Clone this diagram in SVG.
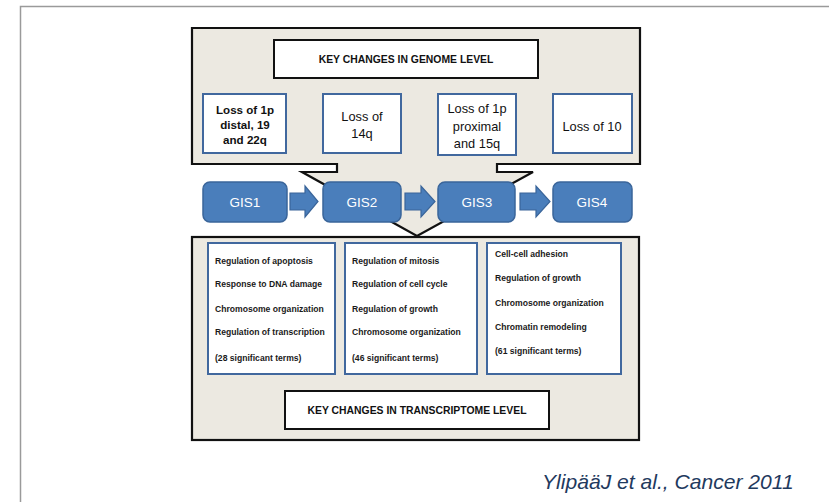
<svg xmlns="http://www.w3.org/2000/svg" width="829" height="502" viewBox="0 0 829 502">
<style>
.panel{fill:#ECE9E1;stroke:#111;stroke-width:2.2;stroke-linejoin:miter}
.hdr{fill:#fff;stroke:#111;stroke-width:2}
.hdrt{font-family:"Liberation Sans",Arial,sans-serif;font-weight:bold;font-size:10.4px;fill:#111;text-anchor:middle}
.lbox{fill:#fff;stroke:#41689E;stroke-width:2}
.lt{font-family:"Liberation Sans",Arial,sans-serif;font-size:12.8px;fill:#111;text-anchor:middle}
.ltb{font-family:"Liberation Sans",Arial,sans-serif;font-size:11.6px;font-weight:bold;fill:#111;text-anchor:middle}
.gis{fill:#4A7EBB;stroke:#3A659A;stroke-width:1.5}
.gt{font-family:"Liberation Sans",Arial,sans-serif;font-size:13.5px;fill:#fff;text-anchor:middle}
.arr{fill:#4A7EBB;stroke:#3A659A;stroke-width:1.2}
.tt{font-family:"Liberation Sans",Arial,sans-serif;font-size:8.6px;font-weight:bold;fill:#1a1a1a}
.cap{font-family:"Liberation Sans",Arial,sans-serif;font-size:21.1px;font-style:italic;fill:#1F3A5E}
</style>
<rect x="0" y="0" width="829" height="502" fill="#fff"/>
<rect x="20.5" y="6.5" width="900" height="600" fill="none" stroke="#9a9a9a" stroke-width="1.5"/>

<g id="genome-panel">
<path class="panel" d="M192,28 H640 V164 H497 V172 H533 L417,236 L302,172 H337 V164 H192 Z"/>
</g>
<g id="transcriptome-panel">
<rect class="panel" x="192" y="237" width="447" height="203"/>
</g>

<g id="genome-header">
<rect class="hdr" x="274" y="40" width="264" height="38"/>
<text class="hdrt" x="406" y="63">KEY CHANGES IN GENOME LEVEL</text>
</g>

<g id="loss1">
<rect class="lbox" x="203" y="94" width="83" height="59"/>
<text class="ltb" x="245" y="114">Loss of 1p</text>
<text class="ltb" x="245" y="129">distal, 19</text>
<text class="ltb" x="245" y="144">and 22q</text>
</g>
<g id="loss2">
<rect class="lbox" x="323" y="94" width="78" height="59"/>
<text class="lt" x="362" y="121">Loss of</text>
<text class="lt" x="362" y="138">14q</text>
</g>
<g id="loss3">
<rect class="lbox" x="438" y="94" width="78" height="61"/>
<text class="lt" x="477" y="113">Loss of 1p</text>
<text class="lt" x="477" y="131">proximal</text>
<text class="lt" x="477" y="148">and 15q</text>
</g>
<g id="loss4">
<rect class="lbox" x="553" y="94" width="79" height="59"/>
<text class="lt" x="592" y="131">Loss of 10</text>
</g>

<g id="connectors">
<path class="arr" d="M290,193 H305 V186 L318,201.5 L305,217 V210 H290 Z"/>
<path class="arr" d="M405,193 H421 V186 L435,201.5 L421,217 V210 H405 Z"/>
<path class="arr" d="M520,193 H536 V186 L550,201.5 L536,217 V210 H520 Z"/>
</g>

<g id="gis1">
<rect class="gis" x="203" y="182" width="84" height="40" rx="7"/>
<text class="gt" x="245" y="207">GIS1</text>
</g>
<g id="gis2">
<rect class="gis" x="323" y="182" width="78" height="40" rx="7"/>
<text class="gt" x="362" y="207">GIS2</text>
</g>
<g id="gis3">
<rect class="gis" x="438" y="182" width="77" height="40" rx="7"/>
<text class="gt" x="477" y="207">GIS3</text>
</g>
<g id="gis4">
<rect class="gis" x="553" y="182" width="79" height="40" rx="7"/>
<text class="gt" x="592" y="207">GIS4</text>
</g>

<g id="terms1">
<rect class="lbox" x="208" y="243" width="127" height="131"/>
<text class="tt" x="215" y="264">Regulation of apoptosis</text>
<text class="tt" x="215" y="287">Response to DNA damage</text>
<text class="tt" x="215" y="312">Chromosome organization</text>
<text class="tt" x="215" y="335">Regulation of transcription</text>
<text class="tt" x="215" y="361">(28 significant terms)</text>
</g>
<g id="terms2">
<rect class="lbox" x="345" y="243" width="132" height="131"/>
<text class="tt" x="352" y="264">Regulation of mitosis</text>
<text class="tt" x="352" y="287">Regulation of cell cycle</text>
<text class="tt" x="352" y="312">Regulation of growth</text>
<text class="tt" x="352" y="335">Chromosome organization</text>
<text class="tt" x="352" y="361">(46 significant terms)</text>
</g>
<g id="terms3">
<rect class="lbox" x="487" y="243" width="134" height="131"/>
<text class="tt" x="495" y="257">Cell-cell adhesion</text>
<text class="tt" x="495" y="281">Regulation of growth</text>
<text class="tt" x="495" y="306">Chromosome organization</text>
<text class="tt" x="495" y="330">Chromatin remodeling</text>
<text class="tt" x="495" y="354">(61 significant terms)</text>
</g>

<g id="transcriptome-header">
<rect class="hdr" x="285" y="391" width="264" height="38"/>
<text class="hdrt" x="417" y="414">KEY CHANGES IN TRANSCRIPTOME LEVEL</text>
</g>

<text class="cap" x="542" y="489">YlipääJ et al., Cancer 2011</text>
</svg>
